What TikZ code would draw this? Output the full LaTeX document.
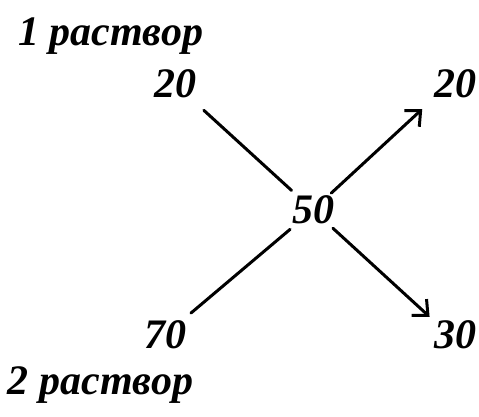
\documentclass[tikz,border=0pt]{standalone}
\usepackage{fontspec}
\setmainfont{Liberation Serif}
\usetikzlibrary{arrows.meta}
\tikzset{
  num/.style={font=\fontsize{42}{46}\selectfont\bfseries\itshape, inner sep=0pt, outer sep=0pt},
  lab/.style={font=\fontsize{42}{46}\selectfont\bfseries\itshape, inner sep=0pt, outer sep=0pt, anchor=base west},
  link/.style={line width=3pt, line cap=round},
  arr/.style={link, -{Straight Barb[length=12pt,width=22pt,line width=3pt]}}
}
\begin{document}
\begin{tikzpicture}[x=1pt,y=-1pt]
\useasboundingbox (0,0) rectangle (479,417);
\node[lab] (s1) at (18,46) {1 раствор};
\node[lab] (s2) at (8,394) {2 раствор};
\node[num] (a) at (175,84) {20};
\node[num] (b) at (455,84) {20};
\node[num] (c) at (313,210) {50};
\node[num] (d) at (165,335) {70};
\node[num] (e) at (455,335) {30};
\draw[link, shorten <=18pt, shorten >=8pt] (a) -- (c);
\draw[link, shorten <=12pt, shorten >=8pt] (d) -- (c);
\draw[arr, shorten <=4pt, shorten >=16pt] (c) -- (b.south west);
\draw[arr, shorten <=6pt, shorten >=6pt] (c) -- (e.north west);
\end{tikzpicture}
\end{document}
